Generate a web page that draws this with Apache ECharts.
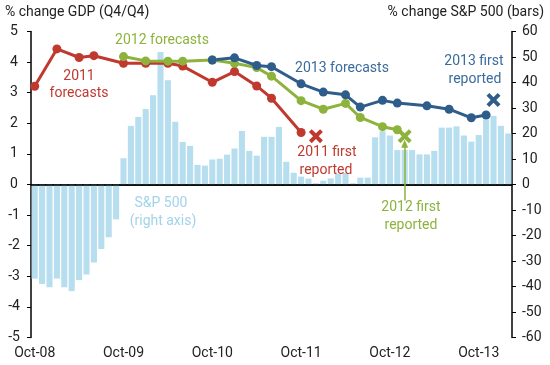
<!DOCTYPE html>
<html><head><meta charset="utf-8">
<script src="https://cdn.jsdelivr.net/npm/echarts@6/dist/echarts.min.js"></script>
<style>html,body{margin:0;padding:0;background:#fff}#c{width:550px;height:365px}</style>
</head><body><div id="c"></div>
<script>
// Monthly categories Oct-08 .. Feb-14
const monthNames = ['Jan','Feb','Mar','Apr','May','Jun','Jul','Aug','Sep','Oct','Nov','Dec'];
const categories = [];
for (let i = 0; i < 65; i++) {
  const m = (9 + i) % 12, y = 8 + Math.floor((9 + i) / 12);
  categories.push(monthNames[m] + '-' + String(y).padStart(2, '0'));
}
const leftTicks = {min: -5, max: 5, interval: 1};
const rightTicks = {min: -60, max: 60, interval: 10};

// S&P 500 % change (bars, right axis), one per month
const sp500 = [-36.9,-39.0,-40.3,-36.9,-40.3,-41.8,-37.5,-35.3,-30.6,-25.3,-20.7,-13.7,
  10.3,23.0,26.5,29.6,35.0,52.0,40.9,24.6,16.7,15.1,7.7,7.4,
  9.8,10.1,11.7,14.1,21.0,13.2,11.3,18.7,18.7,22.6,8.9,4.6,
  3.1,2.3,0.5,1.5,2.4,4.2,4.5,0.5,2.7,2.7,18.5,20.9,
  19.2,13.5,13.5,13.5,11.8,11.8,13.2,22.3,22.3,22.8,19.2,16.8,
  19.4,25.5,26.9,23.0,20.0];

// GDP forecasts (left axis)
const gdp2011 = [['Oct-08',3.21],['Jan-09',4.43],['Apr-09',4.15],['Jun-09',4.21],['Oct-09',3.96],
  ['Jan-10',3.96],['Apr-10',3.96],['Jun-10',3.87],['Oct-10',3.34],['Jan-11',3.69],['Apr-11',3.22],
  ['Jun-11',2.82],['Oct-11',1.70]];
const gdp2012 = [['Oct-09',4.18],['Jan-10',4.04],['Apr-10',4.03],['Jun-10',4.03],['Oct-10',4.07],
  ['Jan-11',3.96],['Apr-11',3.82],['Jun-11',3.54],['Oct-11',2.74],['Jan-12',2.46],['Apr-12',2.65],
  ['Jun-12',2.19],['Sep-12',1.89],['Nov-12',1.79]];
const gdp2013 = [['Oct-10',4.07],['Jan-11',4.14],['Apr-11',3.89],['Jun-11',3.85],['Oct-11',3.29],
  ['Jan-12',3.02],['Apr-12',2.93],['Jun-12',2.53],['Sep-12',2.75],['Nov-12',2.66],['Mar-13',2.57],
  ['Jun-13',2.46],['Sep-13',2.18],['Nov-13',2.27]];
const first2011 = [['Dec-11',1.58]];
const first2012 = [['Dec-12',1.58]];
const first2013 = [['Dec-13',2.76]];

const RED = '#c0392f', GREEN = '#8db33d', BLUE = '#2e5d8c', BAR = '#b6deee';
const XSYM = 'path://M0,2 L2,0 L5,3 L8,0 L10,2 L7,5 L10,8 L8,10 L5,7 L2,10 L0,8 L3,5 Z';
const FONT = 'Roboto';

const chart = echarts.init(document.getElementById('c'), null, {renderer: 'canvas'});
function lineSeries(data, color) {
  return {type: 'line', data, yAxisIndex: 0, symbol: 'circle', symbolSize: 9, showAllSymbol: true,
    lineStyle: {width: 3, color}, itemStyle: {color}, z: 5};
}
function xSeries(data, color, extra) {
  return Object.assign({type: 'scatter', data, yAxisIndex: 0, symbol: XSYM, symbolSize: 14,
    itemStyle: {color, opacity: 1}, z: 6}, extra || {});
}
function txt(x, y, text, color, size) {
  return {type: 'text', x, y, style: {text, fill: color, font: (size || 14) + 'px ' + FONT,
    textAlign: 'center', textVerticalAlign: 'middle'}, z: 10};
}
const option = {
  animation: false,
  textStyle: {fontFamily: FONT},
  grid: {left: 31, right: 38, top: 31.5, bottom: 27.5},
  xAxis: {type: 'category', data: categories, boundaryGap: true,
    axisLine: {lineStyle: {color: '#000', width: 1.5}},
    axisTick: {interval: (i) => i % 6 === 0, length: 4, lineStyle: {color: '#000', width: 1}},
    axisLabel: {interval: (i) => i % 12 === 0, fontSize: 14, color: '#222', margin: 9, fontFamily: FONT},
    splitLine: {show: false}},
  yAxis: [
    {type: 'value', position: 'left', min: leftTicks.min, max: leftTicks.max, interval: leftTicks.interval,
      axisLine: {show: true, lineStyle: {color: '#000', width: 1.5}},
      axisTick: {show: true, length: 4, lineStyle: {color: '#000'}},
      axisLabel: {fontSize: 14, color: '#222', margin: 17, align: 'center', fontFamily: FONT},
      splitLine: {show: false}},
    {type: 'value', position: 'right', min: rightTicks.min, max: rightTicks.max, interval: rightTicks.interval,
      axisLine: {show: true, lineStyle: {color: '#000', width: 1.5}},
      axisTick: {show: true, length: 4, lineStyle: {color: '#000'}},
      axisLabel: {fontSize: 14, color: '#222', margin: 10, fontFamily: FONT},
      splitLine: {show: false}}
  ],
  series: [
    {type: 'bar', data: sp500, yAxisIndex: 1, barCategoryGap: '18%', itemStyle: {color: BAR}, z: 1,
      markLine: {silent: true, symbol: ['none', 'none'], label: {show: false},
        lineStyle: {color: '#000', type: 'solid', width: 1.5}, data: [{yAxis: 0}]}},
    lineSeries(gdp2011, RED),
    lineSeries(gdp2012, GREEN),
    lineSeries(gdp2013, BLUE),
    xSeries(first2011, RED),
    xSeries(first2012, GREEN, {markLine: {silent: true, symbol: ['none', 'triangle'], symbolSize: [7, 8],
      label: {show: false}, lineStyle: {color: GREEN, type: 'solid', width: 1.5},
      data: [[{coord: ['Dec-12', -0.52]}, {coord: ['Dec-12', 1.33]}]]}}),
    xSeries(first2013, BLUE)
  ],
  graphic: [
    {type: 'text', x: 5, y: 12, style: {text: '% change GDP (Q4/Q4)', fill: '#222', font: '14px ' + FONT,
      textAlign: 'left', textVerticalAlign: 'middle'}},
    {type: 'text', x: 544, y: 12, style: {text: '% change S&P 500 (bars)', fill: '#222', font: '14px ' + FONT,
      textAlign: 'right', textVerticalAlign: 'middle'}},
    txt(162, 40, '2012 forecasts', GREEN),
    txt(79, 76, '2011', RED), txt(79, 93, 'forecasts', RED),
    txt(342, 68, '2013 forecasts', '#3a6b9c'),
    txt(474, 61, '2013 first', '#3a6b9c'), txt(475, 79, 'reported', '#3a6b9c'),
    txt(327, 152, '2011 first', RED), txt(326, 170, 'reported', RED),
    txt(411, 207, '2012 first', GREEN), txt(411, 225, 'reported', GREEN),
    txt(161, 203, 'S&P 500', '#a2d3ea'), txt(163, 221, '(right axis)', '#a2d3ea')
  ]
};
chart.setOption(option);
</script></body></html>
